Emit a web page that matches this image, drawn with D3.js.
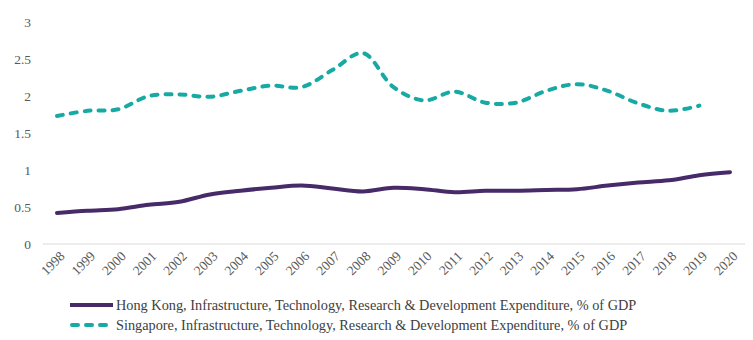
<!DOCTYPE html>
<html lang="en">
<head>
<meta charset="utf-8">
<title>Infrastructure, Technology, R&amp;D Expenditure</title>
<style>
  body{ margin:0; background:#fff; }
  svg{ display:block; }
  svg text{ font-family:"Liberation Serif","Times New Roman",serif; }
  .tick text{ fill:#595959; font-size:13.5px; }
  .legend text{ fill:#404040; font-size:14.3px; }
</style>
</head>
<body>
<div id="chart"></div>
<script src="https://cdn.jsdelivr.net/npm/d3@7"></script>
<script>
  var years = [1998,1999,2000,2001,2002,2003,2004,2005,2006,2007,2008,2009,2010,2011,2012,2013,2014,2015,2016,2017,2018,2019,2020];
  var hongKong = [0.42,0.45,0.47,0.53,0.57,0.67,0.72,0.76,0.79,0.75,0.71,0.76,0.74,0.70,0.72,0.72,0.73,0.74,0.79,0.83,0.86,0.93,0.97];
  var singapore = [1.73,1.80,1.82,2.00,2.02,1.99,2.07,2.14,2.12,2.35,2.58,2.12,1.94,2.06,1.91,1.91,2.07,2.16,2.07,1.90,1.80,1.87,null];
  var yTicks = [0,0.5,1,1.5,2,2.5,3];
  var seriesNames = [
    "Hong Kong, Infrastructure, Technology, Research & Development Expenditure, % of GDP",
    "Singapore, Infrastructure, Technology, Research & Development Expenditure, % of GDP"
  ];

  var width = 753, height = 340;
  var svg = d3.select('#chart').append('svg').attr('width', width).attr('height', height);

  var x = d3.scalePoint().domain(years).range([57, 730]);
  var y = d3.scaleLinear().domain([0, 3]).range([244, 22]);

  // y axis labels only, no line
  var yAxis = svg.append('g').attr('transform', 'translate(31,0)')
    .call(d3.axisLeft(y).tickValues(yTicks).tickSize(0).tickPadding(0).tickFormat(d3.format('')));
  yAxis.select('.domain').remove();
  yAxis.selectAll('text').attr('dy', '0.35em');

  // baseline
  svg.append('line')
    .attr('x1', 43).attr('x2', 745)
    .attr('y1', y(0)).attr('y2', y(0))
    .attr('stroke', '#d9d9d9').attr('stroke-width', 1);

  var xAxis = svg.append('g').attr('transform', 'translate(0,' + y(0) + ')')
    .call(d3.axisBottom(x).tickSize(0).tickFormat(d3.format('d')));
  xAxis.select('.domain').remove();
  xAxis.selectAll('text')
    .attr('text-anchor', 'end')
    .attr('dy', '0')
    .attr('y', 0).attr('x', 0)
    .attr('transform', 'translate(8,13) rotate(-45)');

  var line = d3.line()
    .defined(function(d){ return d[1] != null; })
    .x(function(d){ return x(d[0]); })
    .y(function(d){ return y(d[1]); })
    .curve(d3.curveCatmullRom.alpha(0.5));

  var series = [
    {values: hongKong, color: '#472a68', dash: null},
    {values: singapore, color: '#17aaa5', dash: '6,8'}
  ];

  series.forEach(function(s){
    svg.append('path')
      .datum(years.map(function(yr, i){ return [yr, s.values[i]]; }))
      .attr('d', line)
      .attr('fill', 'none')
      .attr('stroke', s.color)
      .attr('stroke-width', 4)
      .attr('stroke-linecap', 'round')
      .attr('stroke-linejoin', 'round')
      .attr('stroke-dasharray', s.dash);
  });

  var legend = svg.append('g').attr('class', 'legend');
  series.forEach(function(s, i){
    var g = legend.append('g').attr('transform', 'translate(0,' + (305 + i * 20) + ')');
    g.append('line')
      .attr('x1', i ? 72 : 70).attr('x2', 113)
      .attr('stroke', s.color).attr('stroke-width', 4)
      .attr('stroke-linecap', s.dash ? 'round' : 'butt')
      .attr('stroke-dasharray', s.dash);
    g.append('text').attr('x', 116).attr('dy', '0.35em').text(seriesNames[i]);
  });
</script>
</body>
</html>
